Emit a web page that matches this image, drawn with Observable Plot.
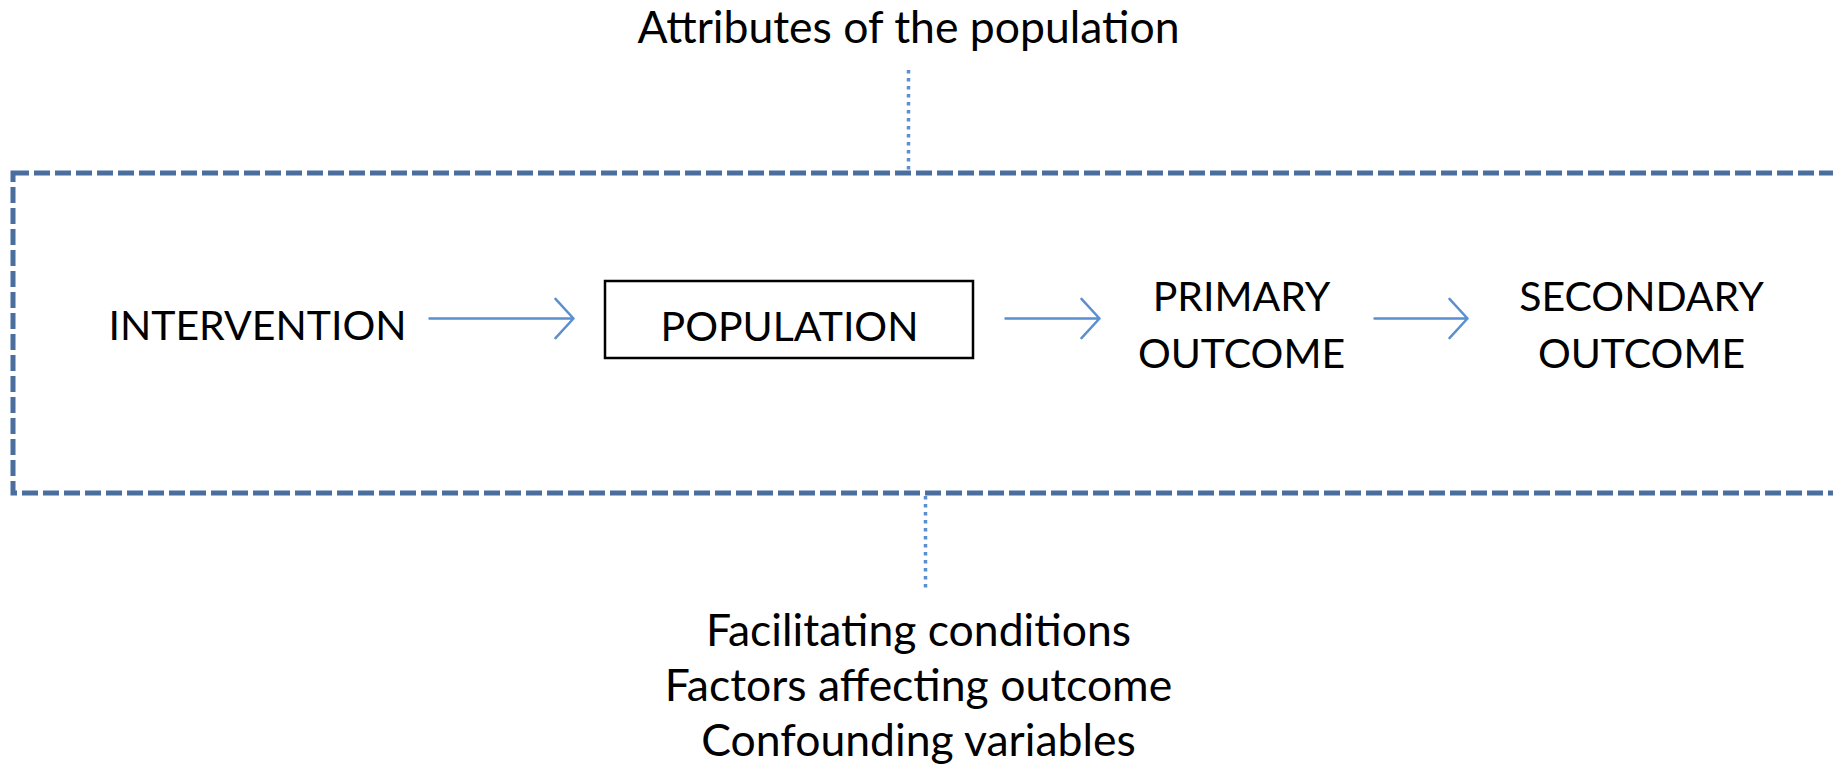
<!DOCTYPE html>
<html>
<head>
<meta charset="utf-8">
<script src="https://cdn.jsdelivr.net/npm/d3@7"></script>
<script src="https://cdn.jsdelivr.net/npm/@observablehq/plot@0.6"></script>
<style>
  html, body { margin: 0; padding: 0; background: #fff; }
  #chart svg { display: block; }
</style>
</head>
<body>
<div id="chart"></div>
<script>
// Diagram content (layout coordinates in a 1833 x 769 canvas space)
const nodeLabels = ["INTERVENTION", "POPULATION", "PRIMARY\nOUTCOME", "SECONDARY\nOUTCOME"];
const nodeX = [257, 789, 1241, 1641];
const nodeY = [322, 323, 321, 321];

const arrowX1 = [429, 1005, 1374];
const arrowX2 = [573, 1099, 1467];
const arrowY = [318, 318, 318];

const topLabel = ["Attributes of the population"];
const topLabelX = [908];
const topLabelY = [28];

const bottomLabel = ["Facilitating conditions\nFactors affecting outcome\nConfounding variables"];
const bottomLabelX = [918];
const bottomLabelY = [683];

const connectorX = [908, 925];
const connectorY1 = [70, 496];
const connectorY2 = [170, 590];

const popBoxX = [605, 973];
const popBoxY = [281, 358];

const frameX = [13, 1850];
const frameY = [173, 493];

const nodes = nodeLabels.map((label, i) => ({label, x: nodeX[i], y: nodeY[i]}));
const arrows = arrowX1.map((x1, i) => ({x1, x2: arrowX2[i], y: arrowY[i]}));
const connectors = connectorX.map((x, i) => ({x, y1: connectorY1[i], y2: connectorY2[i]}));

const font = "Lato, 'Open Sans', sans-serif";

const chart = Plot.plot({
  width: 1833,
  height: 769,
  margin: 0,
  style: {background: "#fff", fontFamily: font},
  x: {domain: [0, 1833], axis: null},
  y: {domain: [0, 769], range: [0, 769], axis: null},
  marks: [
    Plot.rect([{x1: frameX[0], x2: frameX[1], y1: frameY[0], y2: frameY[1]}], {
      x1: "x1", x2: "x2", y1: "y1", y2: "y2",
      fill: "none", stroke: "#4a6f9f", strokeWidth: 5, strokeDasharray: "16,5"
    }),
    Plot.ruleX(connectors, {
      x: "x", y1: "y1", y2: "y2",
      stroke: "#5b8fd0", strokeWidth: 3.5, strokeDasharray: "3.5,4.5"
    }),
    Plot.rect([{x1: popBoxX[0], x2: popBoxX[1], y1: popBoxY[0], y2: popBoxY[1]}], {
      x1: "x1", x2: "x2", y1: "y1", y2: "y2",
      fill: "#fff", stroke: "#000", strokeWidth: 2.5
    }),
    Plot.arrow(arrows, {
      x1: "x1", x2: "x2", y1: "y", y2: "y",
      stroke: "#5b8fcf", strokeWidth: 2.5, headLength: 16, headAngle: 95, bend: 0
    }),
    Plot.text(nodes, {
      x: "x", y: "y", text: "label",
      fontSize: 41, lineHeight: 1.37, fill: "#000", fontFamily: font, lineAnchor: "middle"
    }),
    Plot.text(topLabel, {
      x: () => topLabelX[0], y: () => topLabelY[0], text: d => d,
      fontSize: 44.5, fill: "#000", fontFamily: font, lineAnchor: "middle"
    }),
    Plot.text(bottomLabel, {
      x: () => bottomLabelX[0], y: () => bottomLabelY[0], text: d => d,
      fontSize: 44.5, lineHeight: 1.24, fill: "#000", fontFamily: font, lineAnchor: "middle"
    })
  ]
});

document.getElementById("chart").appendChild(chart);
</script>
</body>
</html>
